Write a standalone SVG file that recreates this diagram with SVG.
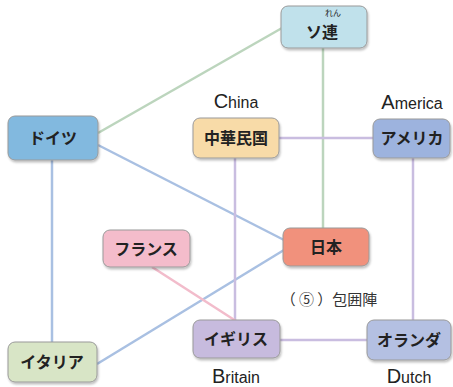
<svg xmlns="http://www.w3.org/2000/svg" width="453" height="387" viewBox="0 0 453 387">
<defs>
<filter id="sh" x="-10%" y="-10%" width="130%" height="140%">
<feDropShadow dx="1" dy="2" stdDeviation="1.2" flood-color="#000" flood-opacity="0.25"/>
</filter>
<style>
.box{stroke:#9a9a9a;stroke-width:1;filter:url(#sh)}
.lbl{font-family:"Noto Sans CJK JP","Noto Sans",sans-serif;font-weight:bold;font-size:16px;fill:#222;text-anchor:middle}
.en{font-family:"Liberation Sans","DejaVu Sans",sans-serif;font-size:16px;fill:#222;text-anchor:middle}
.en tspan.big{font-size:20px}
.ln{fill:none;stroke-width:2.5}
.g{stroke:#bcd5bd}
.b{stroke:#a9c0e2}
.p{stroke:#c9bde0}
.k{stroke:#f2bccb}
</style>
</defs>
<rect width="453" height="387" fill="#fff"/>
<g id="connectors">
<line class="ln g" x1="98" y1="133" x2="282" y2="28"/>
<line class="ln b" x1="98" y1="145" x2="284" y2="240"/>
<line class="ln b" x1="52" y1="160" x2="52" y2="342"/>
<line class="ln b" x1="97" y1="364" x2="284" y2="250"/>
<line class="ln g" x1="323" y1="47" x2="323" y2="228"/>
<line class="ln p" x1="279" y1="138" x2="373" y2="138"/>
<line class="ln p" x1="235" y1="158" x2="235" y2="320"/>
<line class="ln p" x1="413" y1="158" x2="413" y2="320"/>
<line class="ln p" x1="280" y1="340" x2="367" y2="340"/>
<line class="ln k" x1="152" y1="267" x2="236" y2="321"/>
</g>
<g id="soren">
<rect class="box" x="281" y="6" width="86" height="42" rx="7" fill="#c0e1eb"/>
<text class="lbl" x="322" y="38">ソ連</text>
<text x="333" y="16" font-family="Noto Sans CJK JP,sans-serif" font-size="8" fill="#222" text-anchor="middle">れん</text>
</g>
<g id="doitsu">
<rect class="box" x="8" y="116" width="90" height="44" rx="7" fill="#82b9df"/>
<text class="lbl" x="53" y="144">ドイツ</text>
</g>
<g id="chuka">
<rect class="box" x="193" y="118" width="86" height="40" rx="7" fill="#f8dba8"/>
<text class="lbl" x="236" y="144">中華民国</text>
<text class="en" x="236" y="108"><tspan class="big">C</tspan>hina</text>
</g>
<g id="america">
<rect class="box" x="373" y="119" width="77" height="39" rx="7" fill="#9db3de"/>
<text class="lbl" x="412" y="144">アメリカ</text>
<text class="en" x="412" y="109"><tspan class="big">A</tspan>merica</text>
</g>
<g id="france">
<rect class="box" x="103" y="230" width="87" height="37" rx="7" fill="#f4bccb"/>
<text class="lbl" x="146" y="255">フランス</text>
</g>
<g id="nihon">
<rect class="box" x="283" y="228" width="86" height="38" rx="7" fill="#f1917b"/>
<text class="lbl" x="326" y="253">日本</text>
<text x="329" y="305" font-family="Noto Sans CJK JP,sans-serif" font-size="15" fill="#333" text-anchor="middle">（ ⑤ ）包囲陣</text>
</g>
<g id="italia">
<rect class="box" x="8" y="342" width="89" height="40" rx="7" fill="#d8e5c6"/>
<text class="lbl" x="52" y="368">イタリア</text>
</g>
<g id="igirisu">
<rect class="box" x="193" y="320" width="87" height="38" rx="7" fill="#c7bbde"/>
<text class="lbl" x="236" y="345">イギリス</text>
<text class="en" x="236" y="383"><tspan class="big">B</tspan>ritain</text>
</g>
<g id="oranda">
<rect class="box" x="367" y="320" width="84" height="40" rx="7" fill="#b4c0e2"/>
<text class="lbl" x="409" y="346">オランダ</text>
<text class="en" x="409" y="383"><tspan class="big">D</tspan>utch</text>
</g>
</svg>
